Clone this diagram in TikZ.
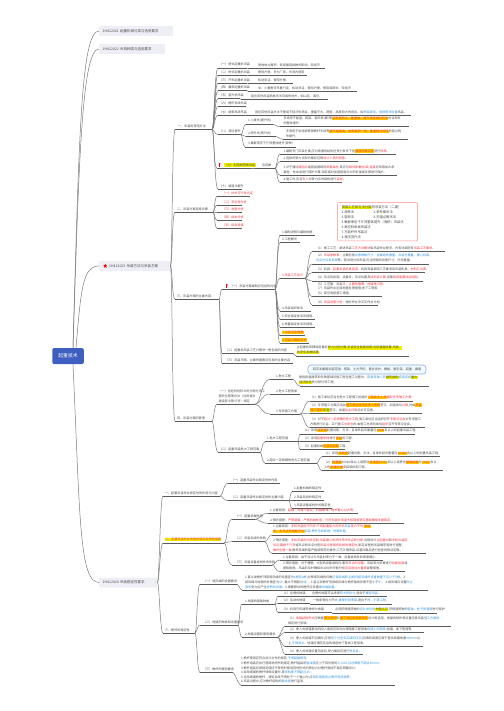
\documentclass[tikz,border=0pt]{standalone}
\usepackage{fontspec}
\setmainfont{Noto Sans CJK SC}
\usetikzlibrary{shapes.geometric}
\definecolor{txtc}{HTML}{4A4A4A}
\definecolor{linec}{HTML}{5A5A5A}
\definecolor{connc}{HTML}{7A7A7A}
\definecolor{boxc}{HTML}{EEEEF6}
\definecolor{rootc}{HTML}{3F5FC0}
\definecolor{hgold}{HTML}{FFD000}
\definecolor{hlime}{HTML}{EEF000}
\definecolor{redt}{HTML}{F0303A}
\definecolor{bluet}{HTML}{2E90DC}
\setlength{\fboxsep}{0.25pt}
\newcommand{\rd}[1]{\textcolor{redt}{#1}}
\newcommand{\bl}[1]{\textcolor{bluet}{#1}}
\newcommand{\hy}[1]{\colorbox{hgold}{\textcolor{redt}{#1}}}
\newcommand{\hl}[1]{\colorbox{hlime}{#1}}
\newcommand{\hz}[1]{\colorbox{hlime}{\textcolor{redt}{#1}}}
\tikzset{
  lbl/.style={anchor=south west,inner xsep=0pt,inner ysep=1.7pt,outer sep=0pt,align=left,text=txtc,font=\fontsize{3.1}{4.8}\selectfont},
  uline/.style={draw=linec,line width=0.6pt},
  conn/.style={draw=connc,line width=0.5pt},
  topbox/.style={anchor=west,fill=boxc,rounded corners=1pt,inner xsep=3.5pt,inner ysep=0pt,minimum height=10pt,align=left,text=txtc,font=\fontsize{3.5}{4.5}\selectfont},
  rootbox/.style={fill=rootc,rounded corners=1.5pt,text=white,minimum width=31.5pt,minimum height=16pt,inner sep=0pt,font=\fontsize{4.8}{6}\selectfont},
  callp/.style={anchor=north west,draw=red!45!white,line width=0.5pt,rounded corners=1pt,fill=white,inner sep=0pt,align=left,text=txtc,font=\fontsize{3.3}{5}\selectfont},
  callb/.style={anchor=center,draw=cyan!50!blue!45!white,line width=0.6pt,rounded corners=3pt,fill=cyan!6!white,inner sep=0pt,text=txtc,font=\fontsize{3.1}{4.8}\selectfont},
  starm/.style={star,star points=5,star point ratio=2.4,fill=red,inner sep=0pt,minimum size=4.6pt},
}
% name, x1, x2, yline, xtext, text
\newcommand{\lab}[6]{%
  \pgfmathsetmacro{\lblw}{#3-#2}\pgfmathsetmacro{\lblp}{#5-#2}%
  \node[lbl,text width=\lblw pt] (#1) at (#2,#4) {\noindent\hspace*{\lblp pt}\parbox[b]{400pt}{\raggedright #6}};%
  \draw[uline] (#1.south west) -- (#1.south east);}
% from, to, gap
\newcommand{\cn}[3]{\draw[conn] (#1.south east) .. controls +({0.4*#3},0) and +({-0.6*#3},0) .. (#2.south west);}
\newcommand{\flagat}[2]{\draw[red,line width=0.35pt] (#1,#2+1.8) -- (#1,#2-1.8); \fill[red] (#1,#2-1.8) -- (#1+2,#2-1.1) -- (#1,#2-0.3) -- cycle;}
\begin{document}
\begin{tikzpicture}[x=1pt,y=-1pt]
\useasboundingbox (0,0) rectangle (503,711);
\node[rootbox] (root) at (68,356) {起重技术};
\node[topbox,text width=67pt] (b1) at (99,31) {1H412021 起重机械分类与选用要求};
\node[topbox,text width=59pt] (b2) at (99,49) {1H412022 吊具种类与选用要求};
\node[topbox,text width=64pt] (b3) at (99,266) {\hspace*{6.5pt}1H412023 吊装方法与吊装方案};
\node[starm] (st) at (105.3,266) {};
\node[topbox,text width=51pt] (b4) at (99,582.5) {1H412024 吊装稳定性要求};
\draw[conn] ([xshift=5pt]root.north) .. controls +(6,-210) and +(-18,0) .. (b1.west);
\draw[conn] ([xshift=5pt]root.north) .. controls +(6,-190) and +(-17,0) .. (b2.west);
\draw[conn] ([xshift=8pt]root.north) .. controls +(5,-60) and +(-16,0) .. (b3.west);
\draw[conn] ([xshift=5pt]root.south) .. controls +(7,150) and +(-20,0) .. (b4.west);

% --- section one
\lab{s1}{175}{212}{129.5}{178}{一、吊装的常用方法}
\lab{a1}{218}{247}{68}{219}{（一）塔式起重机吊装}
\lab{a1t}{248}{325}{68.5}{258}{受地地占面积，受周围阻挡物的影响，较经济}
\lab{a2}{218}{247}{75.3}{219}{（二）桥式起重机吊装}
\lab{a2t}{248}{307}{75.5}{258}{使用方便，多为厂房、车间内使用}
\lab{a3}{218}{247}{83}{219}{（三）汽车起重机吊装}
\lab{a3t}{248}{293}{83.3}{258}{机动灵活，使用方便。}
\lab{a4}{218}{247}{90.7}{219}{（四）履带起重机吊装}
\lab{a4t}{248}{357}{91.3}{258}{中、小重物可吊重行走，机动灵活，使用方便，使用周期长，较经济}
\lab{a5}{218}{240}{98.7}{219}{（五）直升机吊装}
\lab{a5t}{241}{328}{99.3}{251}{能在其他吊装机械无法完成的地方，如山区、高空。}
\lab{a6}{218}{246}{106.5}{219}{（六）桅杆系统吊装}
\lab{a7}{218}{245}{115.3}{219}{（七）缆索系统吊装}
\lab{a7t}{246}{411}{115.8}{255}{用在其他吊装方法不便或不经济的场合，重量不大，跨度、高度较大的场合。如\bl{桥梁建造}、\bl{电视塔顶设备}吊装。}
\lab{a8}{218}{241}{134.5}{219}{（八）液压提升}
\lab{a81}{246}{273}{124.3}{248}{1.上拔式(提升式)}
\lab{a81t}{280}{409}{126.7}{283.5}{多适用于屋盖、网架、钢天桥(廊)等\hy{投影面积大、重量重、提升高度相对较低}场合构件\\的整体提升。}
\lab{a82}{246}{276}{136.5}{248}{2.爬升式(爬升式)}
\lab{a82t}{283}{408}{139.3}{286}{多适用于如电视塔钢桅杆天线等\hy{提升高度高、投影面积一般、重量相对较轻}的直立构\\件提升。}
\lab{a83}{245}{296}{147}{248}{3.集群液压千斤顶整体提升(滑移)}
\lab{a9}{217}{251}{168.3}{224}{\hl{（九）利用构筑物吊装}}
\flagat{219}{165}
\lab{a9n}{255}{275}{168.3}{262}{应该做}
\lab{a91}{280}{396}{154.3}{283.5}{1.编制专门吊装方案,应对承重的结构在受力条件下的\hy{强度和稳定性}进行\rd{校核}。}
\lab{a92}{280}{358}{161.6}{283.5}{2.选择的受力点和方案应征得\rd{设计人员的同意}。}
\lab{a93}{280}{397}{175.3}{283.5}{3.对于通过\rd{锚固点}或直接捆绑的\rd{承重梁柱},其应与\rd{相邻承重柱(梁)连接}应采取加大承\\载柱、柱本身进行保护计算,采取临时加固措施与大的补强或支撑进行保护。}
\lab{a94}{280}{342}{182.4}{283.5}{4.施工时,应设\rd{专人}对受力点的结构进行\rd{监视}。}
\lab{a10}{218}{242}{189.3}{219}{（十）坡道法提升}
\foreach \c in {a1,a2,a3,a4,a5,a6,a7,a8,a9,a10}{\cn{s1}{\c}{6}}
\cn{a1}{a1t}{1}\cn{a2}{a2t}{1}\cn{a3}{a3t}{1}\cn{a4}{a4t}{1}\cn{a5}{a5t}{1}\cn{a7}{a7t}{1}
\cn{a8}{a81}{5}\cn{a8}{a82}{5}\cn{a8}{a83}{4}
\cn{a81}{a81t}{7}\cn{a82}{a82t}{7}
\cn{a9}{a9n}{4}
\cn{a9n}{a91}{5}\cn{a9n}{a92}{5}\cn{a9n}{a93}{5}\cn{a9n}{a94}{5}

% --- section two
\lab{s2}{175}{213}{212}{177}{二、吊装方案选择步骤}
\lab{c1}{217}{250}{196.3}{222}{\rd{（一）技术可行性论证}}
\lab{c2}{217}{242}{205.3}{222}{\rd{（二）安全性分析}}
\lab{c3}{217}{242}{212.7}{222}{\rd{（三）进度分析}}
\lab{c4}{217}{242}{220.3}{222}{\rd{（四）成本分析}}
\lab{c5}{217}{242}{228.3}{222}{\rd{（五）综合选择}}
\foreach \c in {c1,c2,c3,c4,c5}{\cn{s2}{\c}{4}}
\node[callp,minimum width=80pt,minimum height=38.4pt,text width=80pt] (cal) at (337.3,202.3) {\rule{0pt}{4.5pt}\hspace*{4pt}\hl{按照工艺和方法分类}的吊装方法（二建）\\
\hspace*{4pt}\makebox[32pt][l]{1.滑移法}2.单件推吊法\\
\hspace*{4pt}\makebox[32pt][l]{3.旋转法}4.无锚点推吊法\\
\hspace*{4pt}5.集群液压千斤顶整体提升（滑移）吊装法\\
\hspace*{4pt}6.高空斜承索吊装法\\
\hspace*{4pt}7.万能杆件吊装法\\
\hspace*{4pt}8.液压顶升法};

% --- section three
\lab{s3}{175}{219}{299.3}{177}{三、吊装方案的主要内容}
\lab{d1}{222}{275}{289.3}{230}{（一）吊装方案编制应包括的内容}
\flagat{226.5}{286}
\lab{e1}{280}{315}{235.3}{282}{1.编制说明与编制依据}
\lab{e2}{280}{300}{242.7}{282}{2.工程概况}
\lab{e3}{280}{305}{278.3}{282}{\rd{3.吊装工艺设计}}
\lab{e4}{280}{311}{311}{282}{4.吊装组织体系}
\lab{e5}{280}{315}{319.3}{282}{5.安全保证体系及措施}
\lab{e6}{280}{315}{327}{282}{6.质量保证体系及措施}
\lab{e7}{280}{305}{335.7}{282}{\hy{7.吊装应急预案}}
\lab{e8}{280}{309}{343.3}{282}{\hy{8.吊装计算校核书}}
\foreach \c in {e1,e2,e3,e4,e5,e6,e7,e8}{\cn{d1}{\c}{5}}
\lab{f1}{312}{445}{251.7}{316}{（1）施工工艺：阐述吊装\rd{工艺方法概述}和吊装作业程序，内有详细还有\rd{吊装工艺要求}。}
\lab{f2}{312}{429}{264}{316}{（2）\rd{吊装参数表}：主要包括\bl{设备规格尺寸、金属结构重量、吊装总重量、重心标高、}\\\bl{吊点方位及标高}等。若采用分段吊装,应注明每段设备尺寸、分段重量。}
\lab{f3}{312}{425}{272.7}{316}{（3）机具：\rd{起重吊装机具选用}、机具安装拆除工艺要求及吊装机具、\rd{材料汇总表}。}
\lab{f4}{312}{423}{281}{316}{（4）吊点及加固：设备支、吊点位置及\rd{结构设计图},设备\rd{局部或整体加固图}。}
\lab{f5}{312}{382}{296.7}{316}{（5）工艺图：吊装\rd{平、立面布置图，地锚施工图}。\\（7）吊装作业区域地基处理措施;地下工程和\\（6）架空电缆施工措施。}
\lab{f6}{312}{378}{305}{316}{（8）\rd{吊装进度计划}：相对作业次交叉作业计划。}
\foreach \c in {f1,f2,f3,f4,f5,f6}{\cn{e3}{\c}{7}}
\lab{d2}{222}{293}{353.3}{225}{（二）起重机吊装工艺计算书一般包括的内容}
\lab{d2t}{296}{409}{356}{296.7}{主起重机和辅助起重机\hl{受力分配计算;吊装安全距离核算;吊耳强度核算;吊索、}\\\hl{具安全系数核算}。}
\lab{d3}{222}{293}{363.3}{225}{（三）吊装平面、立面布置图应包括的主要内容}
\foreach \c in {d1,d2,d3}{\cn{s3}{\c}{3}}
\cn{d2}{d2t}{2}

% --- section four
\lab{s4}{175}{212}{421}{177}{四、吊装方案的管理}
\lab{g1}{217}{255}{404.3}{218.5}{（一）住危险性较大的分部分项工\\程安全管理办法（住房城乡\\建设部令第37号）规定}
\lab{h1}{270}{293}{379.3}{276}{1.危大工程}
\lab{h1t}{300}{429}{386}{299}{是指房屋建筑和市政基础设施工程在施工过程中，\bl{容易导致人员}\hl{群死群伤}\bl{或者造成}\hl{重大}\\\hl{经济损失}的分部分项工程。}
\node[callb,minimum width=118pt,minimum height=9pt] (h1c) at (367,369.5) {四字法幕墙吊装范围：塔架、土方开挖、基坑支护、模板、脚手架、起重、幕墙};
\lab{h2}{270}{300}{394}{276}{2.危大工程清单}
\lab{h3}{270}{300}{414}{276}{3.专项施工方案}
\lab{i1}{310}{412.7}{401}{310}{（1）施工单位应当在危大工程施工前组织\hy{工程技术人员}\rd{编制专项施工方案}。}
\lab{i2}{310}{422}{413.3}{310}{（2）专项施工方案应当由\hy{施工单位技术负责人审核}签字、加盖单位\rd{公章},并由\hy{总监}\\\hy{理工程师}\hl{审查}签字、加盖\rd{执业印章}后方可实施。}
\lab{i3}{310}{425}{427.5}{310}{（3）对于\rd{超过一定规模的危大工程},施工单位应当组织召开\rd{专家论证会}对专项施工\\方案进行论证。实行施工\rd{总承包}的,由施工总承包单位\rd{组织}召开专家论证会。}
\foreach \c in {h1,h2,h3}{\cn{g1}{\c}{15}}
\cn{h1}{h1t}{7}
\foreach \c in {i1,i2,i3}{\cn{h3}{\c}{10}}
\lab{g2}{218}{260}{452.3}{219}{（二）起重吊装危大工程范围}
\lab{j1}{265}{298}{441.7}{267}{1.危大工程范围}
\lab{j11}{300}{415}{434}{303}{（1）采用\hy{非常规}起重设备、方法，且单件起吊重量在\hy{10kN}及以上的起重吊装工程。}
\lab{j12}{300}{350}{441.7}{303}{（2）采用\rd{起重机械}进行\hy{安装}的工程。}
\lab{j13}{300}{345}{449.3}{303}{（3）起重机械\hy{安装和拆卸}工程。}
\lab{j2}{265}{316.7}{463.3}{267}{2.超过一定规模的危大工程范围}
\lab{j21}{322}{440}{456.7}{324}{（1）采用\hy{非常规}起重设备、方法，且单件起吊重量在\hy{100kN}及以上的起重吊装工程。}
\lab{j22}{322}{443}{470.7}{324}{（2）\hy{起重量}300kN及以上或搭设\hy{总高度200m}及以上或搭设\hy{基础标高}在\hy{200m}及以\\上的\hy{起重机械}安装和拆卸工程。}
\foreach \c in {j1,j2}{\cn{g2}{\c}{5}}
\foreach \c in {j11,j12,j13}{\cn{j1}{\c}{2}}
\foreach \c in {j21,j22}{\cn{j2}{\c}{5}}
\foreach \c in {g1,g2}{\cn{s4}{\c}{5}}
\foreach \c in {s1,s2,s3,s4}{\draw[conn] (b3.east) .. controls +(2,0) and +(-3,0) .. (\c.south west);}

% --- 1H412024 one
\lab{u1}{163}{220}{496}{165}{一、起重吊装作业稳定性的作用与内容}
\lab{k1}{228}{280}{483.3}{231}{（一）起重吊装作业稳定性的作用}
\lab{k2}{228}{289}{500.7}{231}{（二）起重吊装作业稳定性的主要内容}
\lab{k21}{292}{324}{491.7}{294}{1.起重机械的稳定性}
\lab{k22}{292}{324}{500.7}{294}{2.吊装系统的稳定性}
\lab{k23}{292}{332}{508.3}{294}{3.吊装设备或构件的稳定性}
\foreach \c in {k1,k2}{\cn{u1}{\c}{8}}
\foreach \c in {k21,k22,k23}{\cn{k2}{\c}{3}}

% --- two
\lab{u2}{163}{224}{543}{165}{\hz{二、起重吊装作业失稳的原因及预防措施}}
\lab{m1}{232}{255}{519.3}{235}{（一）起重机械失稳}
\lab{m11}{268}{358}{513.3}{270}{1.主要原因：\rd{超载、支腿不稳定、机械故障、桅杆偏心过大等。}}
\lab{m12}{268}{404}{523.3}{270}{2.预防措施：\rd{严禁超载、严格机械检查、打好支腿并用道木和钢板垫实基础确保支腿稳定。}}
\lab{m2}{232}{265}{541.7}{235}{（二）吊装系统的失稳}
\lab{m21}{272}{380}{535}{273}{1.主要原因：\rd{多机吊装的不同步;不同起重能力的多机}\bl{吊装}\rd{受力不均;}\hy{系统}\\\hy{构、多吊点的承载不均}\bl{安装;桅杆系统缆绳、地锚失稳。}}
\lab{m22}{272}{425.7}{553.3}{273}{2.预防措施：\rd{多机吊装的同步控制;吊装偏心的同时考虑吊点的分配;}合理设计\rd{主起重机}和\rd{多机吊装的}\\\rd{吊点;集群千斤顶}或吊点的吊点分配\rd{吊装过程保持}\rd{系统的稳定性};制定合理的吊装顺序和进行调整;\\\rd{做好全面一致},桅杆缆绳的锚严格按规范的操作;工艺计算安装,设置风载后进行检查的保证定额。}
\lab{m3}{232}{272}{565}{235}{（三）吊装设备或构件的失稳}
\lab{m31}{280}{383}{560}{283}{1.主要原因：由于设计与吊装时受力不一致、设备或构件的刚度偏小。}
\lab{m32}{280}{405}{571.7}{283}{2.预防措施：对于薄壁、大型的设备或构件,事先\rd{吊点的设置}、吊装受力验算进行\rd{加固加强}或\\提取措施。吊装前及时确保吊点位的平衡分别\rd{应该增加大量度}调整措施。}
\foreach \c in {m1,m2,m3}{\cn{u2}{\c}{9}}
\foreach \c in {m11,m12}{\cn{m1}{\c}{13}}
\foreach \c in {m21,m22}{\cn{m2}{\c}{7}}
\foreach \c in {m31,m32}{\cn{m3}{\c}{8}}

% --- three
\lab{u3}{163}{195}{633}{165}{三、桅杆的稳定性}
\lab{n1}{200}{237}{584}{203}{（一）缆风绳的设置要求}
\lab{n1t}{242}{428}{590}{245}{1.直立单桅杆顶部缆风绳的设置宜为\bl{6根至8根};对称缆风绳的仰角\bl{应保持相同,且相邻缆风绳的设置数量不应少于5根}。2.\\缆风绳与地面的夹角宜为\bl{30°},最大不得超过\bl{45°}。3.直立双桅杆顶部缆风绳与桅杆轴线夹角不宜小于\bl{8°}。 4.缆风绳应设置\bl{防止}\\\bl{滑车}受力后产生\bl{扭转的设施}。5.需要移动的桅杆应设置\bl{缓冲绳装置}。}
\lab{n2}{200}{238}{625}{203}{（二）地锚的种类和设置要求}
\lab{p1}{242}{275}{604}{245}{1.地锚的基础种类}
\lab{p11}{278}{310}{596}{282}{（1）全埋式地锚}
\lab{p11t}{310}{386.7}{596.3}{312}{全埋式地锚可以承受\bl{较大的拉力},适合于\bl{重型吊装}。}
\lab{p12}{278}{310}{603.5}{282}{（2）活动式地锚}
\lab{p12t}{310}{391.7}{603.8}{313}{一般承受拉力不大,\bl{重复利用率高},适合于\bl{改、扩建工程}。}
\lab{p13}{278}{332}{612.5}{282}{（3）利用已有建筑物作为地锚}
\lab{p13t}{332}{436.7}{612.8}{335}{必须获得建筑物的\bl{设计单位的}\hl{书面认可},获得建筑物的\bl{基础、柱子的强度}进行保护}
\foreach \c in {p11,p12,p13}{\cn{p1}{\c}{3}}
\cn{p11}{p11t}{1}\cn{p12}{p12t}{1}\cn{p13}{p13t}{1}
\lab{p2}{242}{278}{637.3}{245}{2.地锚设置和使用要求}
\lab{p21}{285}{450.7}{626}{288}{（1）\rd{地锚结构形式}应根据\hy{受力条件}和\hy{施工地区的地质条件}设计和选用。地锚的制作和设置应按吊装\bl{施工方案的}\\规定进行验收。}
\lab{p22}{285}{424}{632.3}{288}{（2）埋入式地锚基坑的回入填前应及时办理隐蔽工程验收\bl{回填土的密度},地锚、地下管道等。}
\lab{p23}{285}{423}{646.7}{288}{（3）埋入式地锚不回填时,应用\bl{用十分坚实实填的压实},回填的高度应高于基坑周围地面\bl{400mm}以\\上,\bl{不得浸水}。地锚应掩压实后的填前地下管线工程验收。}
\lab{p24}{285}{362.7}{654.3}{288}{（4）埋入式地锚设置完成后,受力绳扣应进行\bl{预拉紧}。}
\foreach \c in {p21,p22,p23,p24}{\cn{p2}{\c}{4}}
\foreach \c in {p1,p2}{\cn{n2}{\c}{4}}
\lab{n3}{200}{233}{672.7}{203}{（三）桅杆的使用要求}
\node[lbl,text width=154pt,font=\fontsize{3.1}{4.55}\selectfont] (n3t) at (241,685) {1.桅杆使用应符合设计文件的规定,\bl{不得超载使用};\\2.桅杆组装应执行使用说明书的规定,桅杆组装的\bl{直线度}应小于其长度的\bl{1/1000,且总偏差不超过20mm};\\3.桅杆组装应按规定保持不得同时使用其他形式的预拉力对桅杆施加不稳定荷载设计;\\4.采用缆绳的桅杆倾斜设置时,其\bl{倾斜度不得超过15°};\\5.当用缆绳的桅杆、滑轮系统不得处于一个轴心时,应\bl{采取措施防止桅杆底座滑移};\\6.吊装过程中,应对桅杆结构的\bl{直线度}进行监测。};
\draw[uline] (n3t.south west) -- (n3t.south east);
\cn{n1}{n1t}{3}
\cn{n3}{n3t}{5}
\foreach \c in {n1,n2,n3}{\cn{u3}{\c}{5}}
\foreach \c in {u1,u2,u3}{\draw[conn] (b4.east) .. controls +(2,0) and +(-3,0) .. (\c.south west);}
\end{tikzpicture}
\end{document}
